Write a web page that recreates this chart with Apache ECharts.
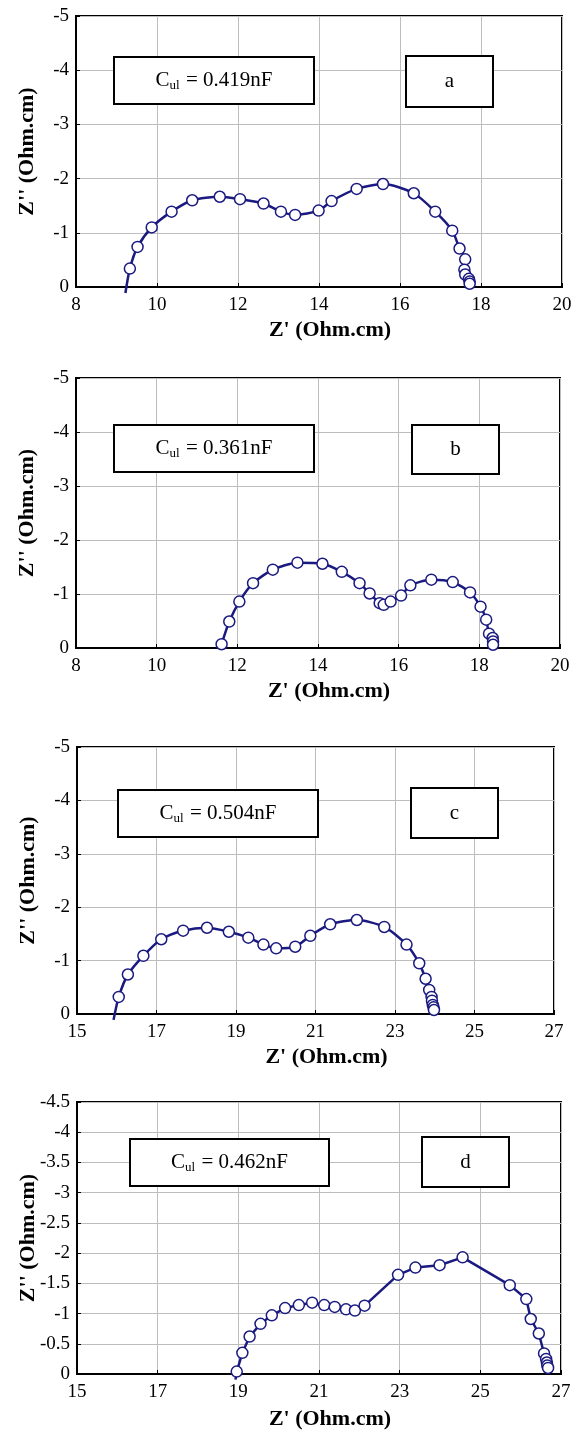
<!DOCTYPE html>
<html><head><meta charset="utf-8">
<script src="https://cdn.jsdelivr.net/npm/echarts@6/dist/echarts.min.js"></script>
<style>html,body{margin:0;padding:0;background:#fff}#c{width:586px;height:1431px}</style>
</head><body><div id="c"></div>
<script>
// ---- data (Z' in Ohm.cm, Z'' in Ohm.cm, negative = upward) ----
const aX = [9.33,9.52,9.87,10.36,10.87,11.55,12.05,12.63,13.06,13.41,13.99,14.31,14.93,15.58,16.34,16.87,17.29,17.47,17.61,17.59,17.61,17.70,17.72,17.72];
const aY = [-0.34,-0.74,-1.10,-1.39,-1.60,-1.665,-1.62,-1.54,-1.39,-1.33,-1.41,-1.585,-1.81,-1.90,-1.73,-1.39,-1.04,-0.71,-0.51,-0.32,-0.23,-0.15,-0.10,-0.06];
const aFitStart = [9.22, 0.11];

const bX = [11.61,11.80,12.05,12.39,12.88,13.49,14.11,14.59,15.03,15.28,15.53,15.63,15.80,16.06,16.29,16.81,17.34,17.77,18.03,18.17,18.24,18.33,18.34,18.34];
const bY = [-0.07,-0.49,-0.86,-1.20,-1.45,-1.58,-1.56,-1.41,-1.20,-1.01,-0.83,-0.80,-0.86,-0.97,-1.16,-1.265,-1.22,-1.03,-0.765,-0.525,-0.265,-0.185,-0.12,-0.06];
const bFitStart = [11.61, -0.07];

const cX = [16.05,16.28,16.67,17.12,17.67,18.27,18.82,19.31,19.69,20.01,20.49,20.87,21.37,22.04,22.73,23.29,23.61,23.77,23.86,23.92,23.93,23.95,23.97,23.98];
const cY = [-0.32,-0.74,-1.09,-1.40,-1.56,-1.615,-1.54,-1.43,-1.30,-1.23,-1.26,-1.465,-1.68,-1.76,-1.63,-1.30,-0.95,-0.66,-0.45,-0.32,-0.25,-0.17,-0.125,-0.075];
const cFitStart = [15.92, 0.11];

const dX = [18.96,19.10,19.28,19.55,19.83,20.16,20.50,20.83,21.13,21.39,21.67,21.89,22.13,22.96,23.39,23.99,24.56,25.73,26.14,26.25,26.45,26.58,26.63,26.65,26.66,26.68];
const dY = [-0.04,-0.35,-0.62,-0.83,-0.97,-1.09,-1.14,-1.18,-1.14,-1.11,-1.07,-1.05,-1.13,-1.64,-1.76,-1.80,-1.93,-1.47,-1.24,-0.91,-0.67,-0.34,-0.25,-0.19,-0.14,-0.10];
const dFitStart = [18.93, 0.094];

// axis settings
const xMin = [8, 8, 15, 15];
const xMax = [20, 20, 27, 27];
const xStep = [2, 2, 2, 2];
const yMin = [-5, -5, -5, -4.5];
const yMax = [0, 0, 0, 0];
const yStep = [1, 1, 1, 0.5];

// annotation texts
const capValues = ['0.419nF', '0.361nF', '0.504nF', '0.462nF'];
const panelLetters = ['a', 'b', 'c', 'd'];
const xTitle = "Z' (Ohm.cm)";
const yTitle = "Z'' (Ohm.cm)";

// ---- layout ----
const grids = [
  {left: 76, top: 16, width: 486, height: 271},
  {left: 76, top: 378, width: 484, height: 270},
  {left: 77, top: 747, width: 477, height: 267},
  {left: 77, top: 1102, width: 484, height: 272}
];
const xNameGap = [32, 32, 32, 34];
const boxes = [
  {cap: [114, 57, 200, 47], let: [406, 56, 87, 51]},
  {cap: [114, 425, 200, 47], let: [412, 425, 87, 49]},
  {cap: [118, 790, 200, 47], let: [411, 788, 87, 50]},
  {cap: [130, 1139, 199, 47], let: [422, 1137, 87, 50]}
];

const FONT = '"Liberation Serif", "Times New Roman", serif';
const NAVY = '#1a1a80';

const panels = [
  {x: aX, y: aY, fit: aFitStart, smooth: 0.25},
  {x: bX, y: bY, fit: bFitStart, smooth: 0.25},
  {x: cX, y: cY, fit: cFitStart, smooth: 0.25},
  {x: dX, y: dY, fit: dFitStart, smooth: false}
];

const xAxes = [], yAxes = [], series = [], graphics = [];
panels.forEach((p, i) => {
  xAxes.push({
    type: 'value', gridIndex: i, min: xMin[i], max: xMax[i], interval: xStep[i],
    name: xTitle, nameLocation: 'middle', nameGap: xNameGap[i], nameMoveOverlap: false,
    nameTextStyle: {fontFamily: FONT, fontWeight: 'bold', fontSize: 22, color: '#000', padding: [0, 0, 0, 22]},
    axisLine: {show: true, onZero: false, lineStyle: {color: '#000', width: 2}},
    axisTick: {show: true, inside: true, length: 4, lineStyle: {color: '#000', width: 1}},
    axisLabel: {fontFamily: FONT, fontSize: 19, color: '#000', margin: 9},
    splitLine: {show: true, lineStyle: {color: '#bdbdbd', width: 1}}
  });
  yAxes.push({
    type: 'value', gridIndex: i, min: yMin[i], max: yMax[i], interval: yStep[i], inverse: true,
    name: yTitle, nameLocation: 'middle', nameGap: 38, nameMoveOverlap: false,
    nameTextStyle: {fontFamily: FONT, fontWeight: 'bold', fontSize: 22, color: '#000'},
    axisLine: {show: true, onZero: false, lineStyle: {color: '#000', width: 2}},
    axisTick: {show: true, inside: true, length: 4, lineStyle: {color: '#000', width: 1}},
    axisLabel: {fontFamily: FONT, fontSize: 19, color: '#000', margin: 7},
    splitLine: {show: true, lineStyle: {color: '#bdbdbd', width: 1}}
  });
  const pts = p.x.map((v, k) => [v, p.y[k]]);
  series.push({
    type: 'line', xAxisIndex: i, yAxisIndex: i,
    data: [p.fit].concat(pts), showSymbol: false, symbol: 'none',
    smooth: p.smooth, clip: false, silent: true, z: 2,
    lineStyle: {color: NAVY, width: 2.5}
  });
  series.push({
    type: 'scatter', xAxisIndex: i, yAxisIndex: i, data: pts,
    symbol: 'circle', symbolSize: 11, z: 3, clip: false, silent: true,
    itemStyle: {color: '#fff', borderColor: NAVY, borderWidth: 1.5, opacity: 1}
  });
  const b = boxes[i];
  graphics.push({
    type: 'rect', z: 10,
    shape: {x: b.cap[0], y: b.cap[1], width: b.cap[2], height: b.cap[3]},
    style: {fill: '#fff', stroke: '#000', lineWidth: 2}
  });
  graphics.push({
    type: 'text', z: 11,
    x: b.cap[0] + b.cap[2] / 2, y: b.cap[1] + b.cap[3] / 2,
    style: {
      text: '{m|C}{s|ul}{m| = ' + capValues[i] + '}',
      align: 'center', verticalAlign: 'middle',
      rich: {
        m: {fontFamily: FONT, fontSize: 21, fill: '#000', color: '#000'},
        s: {fontFamily: FONT, fontSize: 13, fill: '#000', color: '#000', padding: [10, 1, 0, 0]}
      }
    }
  });
  graphics.push({
    type: 'rect', z: 10,
    shape: {x: b.let[0], y: b.let[1], width: b.let[2], height: b.let[3]},
    style: {fill: '#fff', stroke: '#000', lineWidth: 2}
  });
  graphics.push({
    type: 'text', z: 11,
    x: b.let[0] + b.let[2] / 2, y: b.let[1] + b.let[3] / 2,
    style: {
      text: panelLetters[i], align: 'center', verticalAlign: 'middle',
      font: '21px ' + FONT, fill: '#000'
    }
  });
});

const chart = echarts.init(document.getElementById('c'), null, {renderer: 'canvas'});
chart.setOption({
  backgroundColor: '#fff',
  animation: false,
  grid: grids.map(g => Object.assign({show: true, borderColor: '#000', borderWidth: 2, backgroundColor: '#fff'}, g)),
  xAxis: xAxes,
  yAxis: yAxes,
  series: series,
  graphic: graphics
});
</script>
</body></html>
